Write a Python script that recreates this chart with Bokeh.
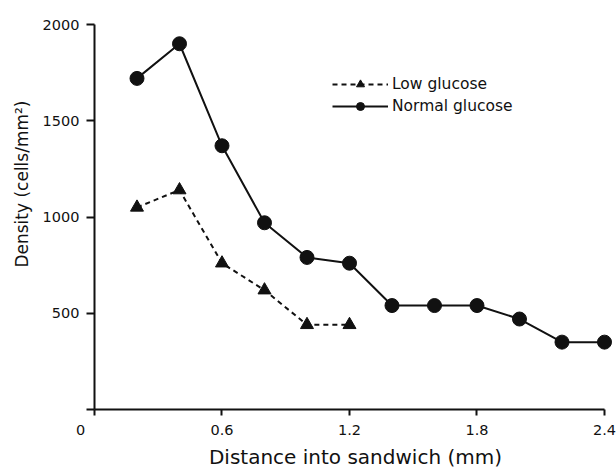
from bokeh.plotting import figure
from bokeh.models import Range1d, FixedTicker, Legend, LegendItem, Title
from bokeh.embed import file_html
from bokeh.resources import INLINE

# Data
normal_x = [0.2, 0.4, 0.6, 0.8, 1.0, 1.2, 1.4, 1.6, 1.8, 2.0, 2.2, 2.4]
normal_y = [1720, 1900, 1370, 970, 790, 760, 540, 540, 540, 470, 350, 350]
low_x = [0.2, 0.4, 0.6, 0.8, 1.0, 1.2]
low_y = [1050, 1140, 760, 620, 440, 440]
x_ticks = [0, 0.6, 1.2, 1.8, 2.4]
# the origin "0" sits left of the corner in the reference; padding with no-break spaces moves it there
x_tick_labels = ["0" + "\u00a0" * 6, "0.6", "1.2", "1.8", "2.4"]
y_ticks = [0, 500, 1000, 1500, 2000]
y_tick_labels = ["", "500", "1000", "1500", "2000"]

INK = "#111111"
FONT = "DejaVu Sans"

p = figure(width=616, height=471, output_backend="svg", toolbar_location=None,
           x_range=Range1d(0, 2.4565), y_range=Range1d(0, 2000),
           min_border_left=94, min_border_right=0, min_border_top=24, min_border_bottom=61)
p.outline_line_color = None
p.grid.visible = False
p.background_fill_color = "white"
p.border_fill_color = "white"

low_line = p.line(low_x, low_y, line_color=INK, line_width=2, line_dash="5 4")
low_pts = p.scatter(low_x, low_y, marker="triangle", size=13, fill_color=INK, line_color=INK)
norm_line = p.line(normal_x, normal_y, line_color=INK, line_width=2)
norm_pts = p.scatter(normal_x, normal_y, marker="circle", size=14, fill_color=INK, line_color=INK)

xa = p.xaxis[0]
xa.ticker = FixedTicker(ticks=x_ticks)
xa.major_label_overrides = {t: l for t, l in zip(x_ticks, x_tick_labels)}
xa.bounds = (0, 2.4)
xa.axis_label = "Distance into sandwich (mm)"
xa.axis_label_text_font = FONT
xa.axis_label_text_font_size = "20px"
xa.axis_label_text_font_style = "normal"
xa.axis_label_text_color = INK
xa.axis_label_standoff = 4
xa.major_tick_out = 6
xa.major_tick_in = 0
xa.major_label_standoff = 6

ya = p.yaxis[0]
ya.ticker = FixedTicker(ticks=y_ticks)
ya.major_label_overrides = {t: l for t, l in zip(y_ticks, y_tick_labels)}
ya.bounds = (0, 2000)
ya.major_tick_out = 8
ya.major_tick_in = 0
ya.major_label_standoff = 7

for ax in (xa, ya):
    ax.axis_line_width = 2
    ax.axis_line_color = INK
    ax.major_tick_line_width = 2
    ax.major_tick_line_color = INK
    ax.minor_tick_line_color = None
    ax.major_label_text_font = FONT
    ax.major_label_text_font_size = "14.5px"
    ax.major_label_text_color = INK

# y-axis title: its top end placed below the frame top, as in the reference
p.add_layout(Title(text="Density (cells/mm²)", align="right", offset=76, standoff=15,
                   text_font=FONT, text_font_size="17px", text_font_style="normal",
                   text_color=INK), "left")

legend = Legend(items=[LegendItem(label="Low glucose", renderers=[low_line, low_pts]),
                       LegendItem(label="Normal glucose", renderers=[norm_line, norm_pts])],
                location=(238, 293), orientation="vertical",
                glyph_width=56, glyph_height=20, label_height=20, label_standoff=4,
                spacing=2, padding=0, margin=0,
                border_line_color=None, background_fill_alpha=0,
                label_text_font=FONT, label_text_font_size="15.5px", label_text_color=INK)
p.add_layout(legend)

open("out.html", "w").write(file_html(p, INLINE))
